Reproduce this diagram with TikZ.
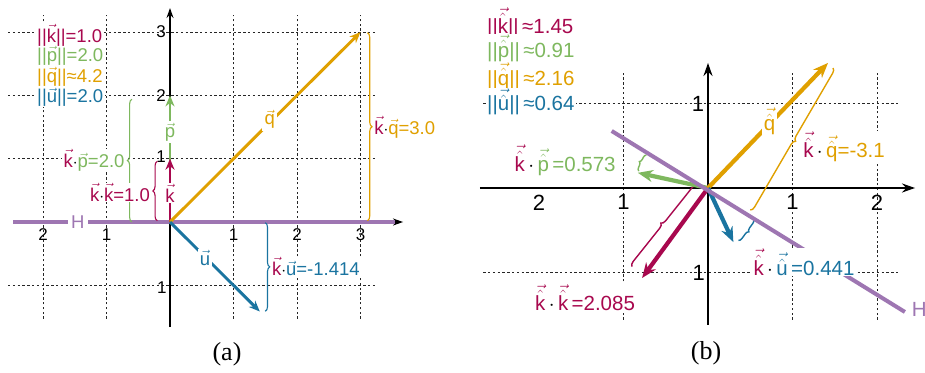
\documentclass[tikz,border=0pt]{standalone}
\usepackage{fontspec}
\setmainfont{Liberation Sans}
\newfontfamily\capfont{Liberation Serif}
\usetikzlibrary{arrows.meta,decorations.pathreplacing}
\definecolor{ck}{RGB}{168,8,78}
\definecolor{cp}{RGB}{126,184,94}
\definecolor{cq}{RGB}{224,160,0}
\definecolor{cu}{RGB}{26,116,160}
\definecolor{cH}{RGB}{158,118,178}
\newcommand\vk[1]{$\vec{\mbox{#1}}$}
\newcommand\vh[1]{$\vec{\hat{\mbox{#1}}}$}
\newcommand\cdt{{\color{black}$\cdot$}}
\newcommand\fa{\fontsize{18.5}{20}\selectfont}
\newcommand\fb{\fontsize{20.5}{22}\selectfont}
\tikzset{
  gridline/.style={line width=0.7pt, black!85, dash pattern=on 2.4pt off 2.4pt},
  axisline/.style={line width=1.3pt, black, -{Stealth[length=10pt,width=7pt]}},
  hline/.style={line width=3.3pt, cH},
  vecA/.style={line width=2.9pt, -{Stealth[length=11pt,width=9pt]}},
  vecB/.style={line width=4.2pt, -{Stealth[length=15pt,width=12pt]}},
  bracestyle/.style={decorate, decoration={brace, amplitude=4.5pt}, line width=1.1pt},
  lbl/.style={fill=white, inner xsep=1.5pt, inner ysep=0.5pt},
}
\begin{document}
\begin{tikzpicture}[x=1pt,y=-1pt]
\useasboundingbox (0,0) rectangle (925,372);
\fill[white] (0,0) rectangle (925,372);

% ================= panel (a) =================
\begin{scope}[shift={(170,222)}, x=63.5pt, y=63.3pt, font=\fa]
  \foreach \x in {-2,-1,1,2,3} \draw[gridline] (\x,-1.53) -- (\x,3.27);
  \foreach \y in {-1,1,2,3} \draw[gridline] (-2.55,\y) -- (3.23,\y);
  \coordinate (Oa) at (0,0);
  \coordinate (xal) at (-2.47,0); \coordinate (xar) at (3.67,0);
  \coordinate (yab) at (0,-1.66); \coordinate (yat) at (0,3.38);
  \coordinate (Hal) at (-2.47,0); \coordinate (Har) at (3.54,0);
  \draw[axisline] (xal) -- (xar);
  \draw[axisline] (yab) -- (yat);
  \draw[hline] (Hal) -- (Har);
  \node[fill=white, text=cH, inner xsep=3pt, inner ysep=1pt] (Ha) at (-1.45,0) {H};
  % tick labels
  \begin{scope}[font=\fontsize{17}{18}\selectfont]
    \node (tam2) at (-2,-0.2) {2};
    \node (tam1) at (-1,-0.2) {1};
    \node (tap1) at (1,-0.2) {1};
    \node (tap2) at (2,-0.2) {2};
    \node (tap3) at (3,-0.2) {3};
    \node[inner sep=0pt] (tay1) at (-0.14,1.03) {1};
    \node[inner sep=0pt] (tay2) at (-0.14,2.0) {2};
    \node[inner sep=0pt] (tay3) at (-0.14,3.0) {3};
    \node[inner sep=0pt] (taym1) at (-0.13,-1.03) {1};
  \end{scope}
  % braces
  \coordinate (bkk1) at (-0.2,0.02); \coordinate (bkk2) at (-0.2,0.96);
  \coordinate (bkp1) at (-0.6,0.0); \coordinate (bkp2) at (-0.6,1.94);
  \coordinate (bkq1) at (3.11,2.99); \coordinate (bkq2) at (3.11,0.02);
  \coordinate (bku1) at (1.5,-0.01); \coordinate (bku2) at (1.5,-1.41);
  \draw[bracestyle, ck] (bkk1) -- (bkk2);
  \draw[bracestyle, cp] (bkp1) -- (bkp2);
  \draw[bracestyle, cq] (bkq1) -- (bkq2);
  \draw[bracestyle, cu] (bku1) -- (bku2);
  \node[lbl, anchor=east] (Lkk) at (-0.29,0.47) {{\color{ck}\vk{k}\cdt\vk{k}=1.0}};
  \node[lbl, anchor=east] (Lkp) at (-0.69,0.97) {{\color{ck}\vk{k}}\cdt{\color{cp}\vk{p}=2.0}};
  \node[lbl, anchor=west] (Lkq) at (3.19,1.5) {{\color{ck}\vk{k}}\cdt{\color{cq}\vk{q}=3.0}};
  \node[lbl, anchor=west] (Lku) at (1.58,-0.7) {{\color{ck}\vk{k}}\cdt{\color{cu}\vk{u}=-1.414}};
  % vectors
  \coordinate (pa) at (0,2); \coordinate (ka) at (0,1);
  \coordinate (qa) at (3,3); \coordinate (ua) at (1.414,-1.414);
  \draw[vecA, cp] (Oa) -- (pa);
  \node[fill=white, inner sep=1.5pt, text=cp] (Lpa) at (0,1.42) {\vk{p}};
  \draw[vecA, ck] (Oa) -- (ka);
  \node[fill=white, inner sep=1pt, text=ck] (Lka) at (0,0.46) {\vk{k}};
  \draw[vecA, cq] (Oa) -- (qa);
  \node[fill=white, inner sep=2.5pt, text=cq] (Lqa) at (1.57,1.62) {\vk{q}};
  \draw[vecA, cu] (Oa) -- (ua);
  \node[fill=white, inner sep=1.5pt, text=cu] (Lua) at (0.55,-0.57) {\vk{u}};
\end{scope}
% legend (a)
\begin{scope}[font=\fa]
  \node[lbl, anchor=west, text=ck] (lga1) at (35.5,35) {||\vk{k}||=1.0};
  \node[lbl, anchor=west, text=cp] (lga2) at (35.5,56) {||\vk{p}||=2.0};
  \node[lbl, anchor=west, text=cq] (lga3) at (35.5,77) {||\vk{q}||≈4.2};
  \node[lbl, anchor=west, text=cu] (lga4) at (35.5,97) {||\vk{u}||=2.0};
\end{scope}

% ================= panel (b) =================
\begin{scope}[shift={(708,188)}, x=84.5pt, y=84.5pt, font=\fb]
  \foreach \x in {-1,1,2} \draw[gridline] (\x,-1.56) -- (\x,1.37);
  \foreach \y in {-1,1} \draw[gridline] (-2.66,\y) -- (2.25,\y);
  \coordinate (Ob) at (0,0);
  \coordinate (xbl) at (-2.7,0); \coordinate (xbr) at (2.45,0);
  \coordinate (ybb) at (0,-1.62); \coordinate (ybt) at (0,1.48);
  \draw[axisline, line width=1.8pt, -{Stealth[length=13pt,width=9pt]}] (xbl) -- (xbr);
  \draw[axisline, line width=1.8pt, -{Stealth[length=13pt,width=9pt]}] (ybb) -- (ybt);
  \begin{scope}[font=\fontsize{22}{23}\selectfont]
    \node (tbm2) at (-2,-0.17) {2};
    \node (tbm1) at (-1,-0.17) {1};
    \node (tbp1) at (1,-0.17) {1};
    \node (tbp2) at (2,-0.17) {2};
    \node[inner sep=0pt] (tby1) at (-0.12,1.0) {1};
    \node[inner sep=0pt] (tbym1) at (-0.11,-1.0) {1};
  \end{scope}
  % braces
  \coordinate (ckk1) at (-0.90,-0.93); \coordinate (ckk2) at (-0.13,0.035);
  \coordinate (ckp1) at (-0.82,0.20); \coordinate (ckp2) at (-0.73,0.39);
  \coordinate (ckq1) at (1.48,1.42); \coordinate (ckq2) at (0.50,-0.26);
  \coordinate (cku1) at (0.54,-0.37); \coordinate (cku2) at (0.36,-0.62);
  \draw[bracestyle, line width=1.4pt, ck] (ckk1) -- (ckk2);
  \draw[bracestyle, line width=1.4pt, decoration={amplitude=3.5pt}, cp] (ckp1) -- (ckp2);
  \draw[bracestyle, line width=1.4pt, cq] (ckq1) -- (ckq2);
  \draw[bracestyle, line width=1.4pt, decoration={amplitude=3.5pt}, cu] (cku1) -- (cku2);
  % vectors
  \coordinate (pb) at (-0.83,0.18); \coordinate (kb) at (-0.78,-1.065);
  \coordinate (qb) at (1.42,1.48); \coordinate (ub) at (0.30,-0.64);
  \draw[vecB, cp] (Ob) -- (pb);
  \draw[vecB, ck] (Ob) -- (kb);
  \draw[vecB, cq] (Ob) -- (qb);
  \node[fill=white, inner sep=1.5pt, text=cq] (Lqb) at (0.73,0.79) {\vh{q}};
  \draw[vecB, cu] (Ob) -- (ub);
  % H line
  \coordinate (Hbl) at (-1.14,0.675); \coordinate (Hbr) at (2.33,-1.467);
  \draw[hline, line width=4pt] (Hbl) -- (Hbr);
  \node[text=cH, inner sep=1pt] (Hb) at (2.5,-1.44) {H};
  % labels
  \node[lbl] (Mkk) at (-1.455,-1.30) {{\color{ck}\vh{k}\,\cdt\,\vh{k}\,=2.085}};
  \node[lbl] (Mkp) at (-1.69,0.33) {{\color{ck}\vh{k}}\,\cdt\,{\color{cp}\vh{p}\,=0.573}};
  \node[lbl] (Mkq) at (1.61,0.485) {{\color{ck}\vh{k}}\,\cdt\,{\color{cq}\vh{q}=-3.1}};
  \node[lbl] (Mku) at (1.136,-0.876) {{\color{ck}\vh{k}}\,\cdt\,{\color{cu}\vh{u}\,=0.441}};
\end{scope}
% legend (b)
\begin{scope}[font=\fb]
  \node[lbl, anchor=west, text=ck] (lgb1) at (485.5,23) {||\vh{k}||\,≈1.45};
  \node[lbl, anchor=west, text=cp] (lgb2) at (485.5,48) {||\vh{p}||\,≈0.91};
  \node[lbl, anchor=west, text=cq] (lgb3) at (485.5,76) {||\vh{q}||\,≈2.16};
  \node[lbl, anchor=west, text=cu] (lgb4) at (485.5,102) {||\vh{u}||\,≈0.64};
\end{scope}

% captions
\node[font=\capfont\fontsize{26}{28}\selectfont] (capa) at (227,354) {(a)};
\node[font=\capfont\fontsize{26}{28}\selectfont] (capb) at (706,353) {(b)};
\end{tikzpicture}
\end{document}
